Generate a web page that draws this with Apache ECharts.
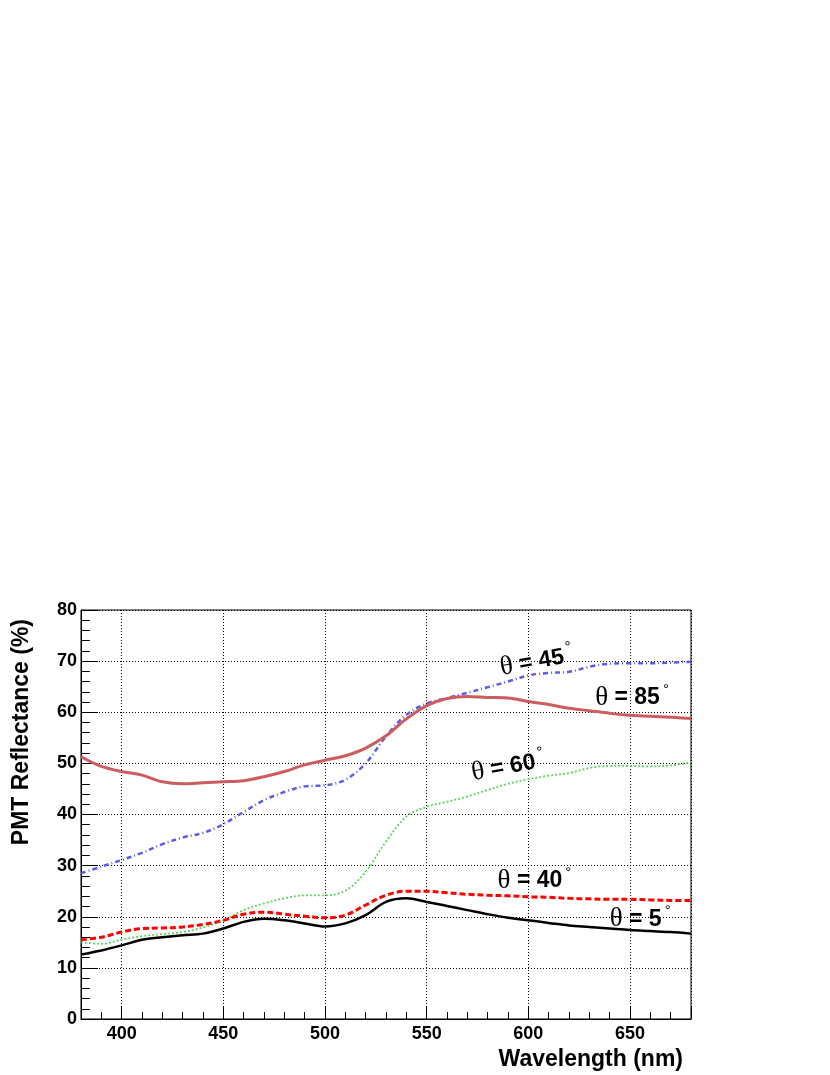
<!DOCTYPE html>
<html>
<head>
<meta charset="utf-8">
<script src="https://cdn.jsdelivr.net/npm/echarts@6/dist/echarts.min.js"></script>
<style>
  html, body { margin: 0; padding: 0; background: #fff; }
  #chart { width: 830px; height: 1075px; }
</style>
</head>
<body>
<div id="chart"></div>
<script>
// wavelength grid (nm)
const wavelength = [380, 390, 400, 410, 420, 430, 440, 450, 460, 470, 480, 490, 500, 510, 520, 530,
  540, 550, 560, 570, 580, 590, 600, 610, 620, 630, 640, 650, 660, 670, 680]

// reflectance (%) per incidence angle
const theta5 = [12.6, 13.4, 14.4, 15.5, 16.0, 16.4, 16.7, 17.7, 19.0, 19.6, 19.3, 18.7, 18.1, 18.7, 20.3, 22.9,
  23.6, 22.9, 22.1, 21.3, 20.5, 19.8, 19.3, 18.8, 18.3, 18.0, 17.7, 17.4, 17.2, 17.0, 16.7]
const theta40 = [15.5, 16.0, 17.0, 17.7, 17.8, 18.0, 18.5, 19.3, 20.5, 20.9, 20.5, 20.1, 19.8, 20.3, 22.3, 24.2,
  25.0, 25.0, 24.7, 24.4, 24.2, 24.1, 23.9, 23.8, 23.6, 23.5, 23.4, 23.4, 23.3, 23.2, 23.2]
const theta60 = [15.0, 14.7, 15.5, 16.2, 16.6, 17.0, 17.9, 19.3, 21.3, 22.6, 23.6, 24.2, 24.2, 25.1, 28.8, 34.7,
  39.6, 41.5, 42.5, 43.5, 44.8, 46.0, 46.9, 47.6, 48.1, 49.1, 49.5, 49.5, 49.4, 49.6, 50.2]
const theta45 = [28.5, 29.8, 31.1, 32.5, 34.2, 35.5, 36.4, 38.1, 40.5, 42.8, 44.4, 45.5, 45.7, 46.8, 50.0, 55.3,
  59.5, 61.7, 62.8, 63.8, 64.9, 66.0, 67.2, 67.7, 67.9, 68.9, 69.5, 69.6, 69.6, 69.7, 69.9]
const theta85 = [51.3, 49.4, 48.4, 47.7, 46.4, 46.0, 46.2, 46.4, 46.6, 47.4, 48.4, 49.7, 50.6, 51.5, 53.0, 55.4,
  58.7, 61.3, 62.7, 63.1, 62.9, 62.8, 62.1, 61.5, 60.8, 60.3, 59.8, 59.4, 59.2, 59.0, 58.8]

// curve labels (angle, anchor in data units, rotation)
const labelAngle = ['45', '85', '60', '40', '5']
const labelX = [604, 651, 590, 603, 655]
const labelY = [69.9, 62.8, 49.3, 27.0, 19.5]
const labelRotate = [10, 0, 10, 0, 0]

const chart = echarts.init(document.getElementById('chart'))

const pairs = vals => wavelength.map((w, i) => [w, vals[i]])

function curve(name, vals, color, width, dash) {
  return {
    name,
    type: 'line',
    data: pairs(vals),
    showSymbol: false,
    smooth: 0.35,
    silent: true,
    lineStyle: { color, width, type: dash }
  }
}

const sans = '"Liberation Sans", Arial, sans-serif'

const option = {
  backgroundColor: '#fff',
  animation: false,
  grid: {
    left: 81, top: 610, right: 139, bottom: 56,
    show: true, borderColor: '#000', borderWidth: 1
  },
  xAxis: [
    {
      type: 'value', min: 380, max: 680, interval: 10,
      axisLine: { lineStyle: { color: '#000', width: 1 } },
      axisTick: { inside: true, length: 7, lineStyle: { color: '#000' } },
      axisLabel: {
        margin: 6, color: '#000', fontSize: 18, fontWeight: 'bold', fontFamily: sans,
        formatter: v => (v % 50 === 0 && v > 380 && v < 680 ? String(v) : '')
      },
      splitLine: { show: false }
    },
    {
      type: 'value', min: 380, max: 680, splitNumber: 6, position: 'bottom',
      axisLine: { show: false },
      axisTick: { inside: true, length: 13, lineStyle: { color: '#000' } },
      axisLabel: { show: false },
      splitLine: { show: true, lineStyle: { color: '#000', width: 1, type: [1, 2] } }
    }
  ],
  yAxis: {
    type: 'value', min: 0, max: 80, interval: 10,
    axisLine: { show: true, lineStyle: { color: '#000', width: 1 } },
    axisTick: { show: true, inside: true, length: 17, lineStyle: { color: '#000' } },
    minorTick: { show: true, splitNumber: 5, length: 9, lineStyle: { color: '#000' } },
    axisLabel: { margin: 4, color: '#000', fontSize: 18, fontWeight: 'bold', fontFamily: sans },
    splitLine: { show: true, lineStyle: { color: '#000', width: 1, type: [1, 2] } }
  },
  series: [
    curve('θ = 45°', theta45, '#5b5bef', 2.5, [5, 3, 1, 3]),
    curve('θ = 60°', theta60, '#5fd35f', 1.8, [2, 2]),
    curve('θ = 85°', theta85, '#cd5c5c', 3, 'solid'),
    curve('θ = 40°', theta40, '#ff0000', 3, [6, 3]),
    curve('θ = 5°', theta5, '#000000', 2.5, 'solid'),
    {
      type: 'scatter',
      symbolSize: 0,
      silent: true,
      itemStyle: { opacity: 1 },
      data: labelAngle.map((a, i) => ({
        value: [labelX[i], labelY[i]],
        label: { rotate: labelRotate[i], formatter: '{t|θ}{b| = ' + a + '}{d|°}' }
      })),
      label: {
        show: true,
        position: 'inside',
        color: '#000',
        opacity: 1,
        textBorderWidth: 0,
        textBorderColor: 'transparent',
        rich: {
          t: { fontFamily: '"Liberation Serif", "Times New Roman", serif', fontSize: 27, color: '#000', textBorderWidth: 0 },
          b: { fontFamily: sans, fontWeight: 'bold', fontSize: 23, color: '#000', textBorderWidth: 0 },
          d: { fontFamily: sans, fontSize: 15, color: '#000', textBorderWidth: 0, padding: [0, 0, 17, 3] }
        }
      }
    }
  ],
  graphic: [
    {
      type: 'text', x: 683, y: 1060,
      style: { text: 'Wavelength (nm)', fill: '#000', font: 'bold 23px ' + sans, align: 'right', verticalAlign: 'middle' }
    },
    {
      type: 'text', x: 22, y: 619, rotation: Math.PI / 2,
      style: { text: 'PMT Reflectance (%)', fill: '#000', font: 'bold 23px ' + sans, align: 'right', verticalAlign: 'middle' }
    }
  ]
}

chart.setOption(option)
</script>
</body>
</html>
